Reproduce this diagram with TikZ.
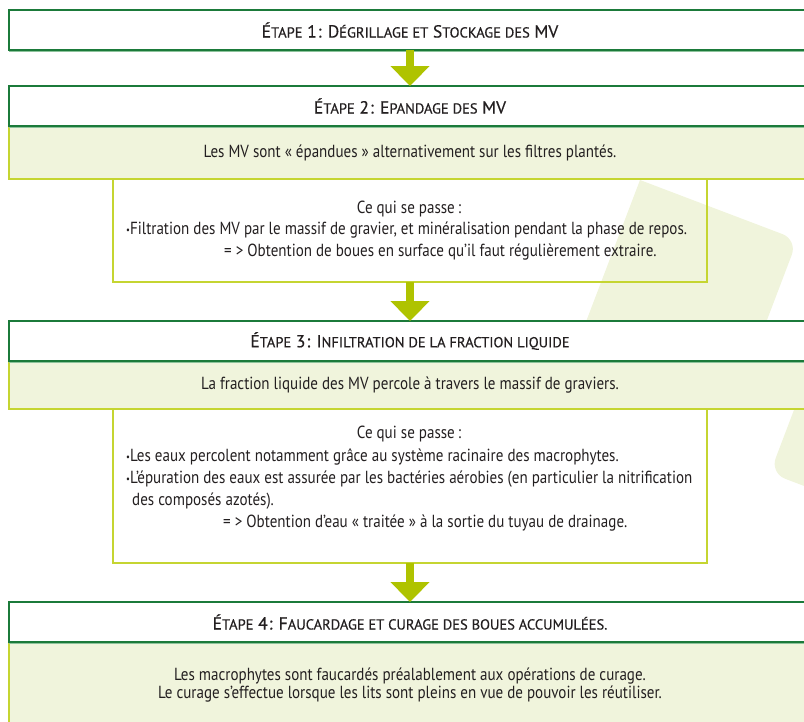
\documentclass[tikz,border=0pt]{standalone}
\usepackage{fontspec}
\setmainfont{PT Sans}[FakeStretch=0.86]
\newfontfamily\entete{PT Sans}[FakeBold=0.4]
\usetikzlibrary{arrows.meta, positioning, shadows}
\definecolor{pine}{HTML}{1B7A3A}
\definecolor{pineshade}{HTML}{8DC39B}
\definecolor{lime}{HTML}{C5D531}
\definecolor{pale}{HTML}{F0F4DC}
\definecolor{olivelime}{HTML}{AFC300}
\definecolor{ink}{HTML}{231F20}

% petites capitales faites a la main
\newcommand{\petcap}[1]{{\fontsize{14.5}{16}\selectfont\MakeUppercase{#1}}}
\newcommand{\puce}{{\fontsize{10}{10}\selectfont\raisebox{1pt}{•}}}

\tikzset{
  etape/.style={draw=pine, line width=1.4pt, fill=white, minimum width=802pt, minimum height=40pt,
    inner sep=0pt, outer sep=0pt, font=\entete\fontsize{17.5}{20}\selectfont,
    drop shadow={shadow xshift=0pt, shadow yshift=-2.2pt, fill=pineshade, opacity=1}},
  corps/.style={draw=lime, line width=1.4pt, fill=pale, minimum width=802pt, inner sep=0pt,
    outer sep=0pt, align=center, font=\fontsize{17.5}{18.5}\selectfont},
  detail/.style={draw=lime, line width=1.4pt, minimum width=594pt, inner sep=0pt, outer sep=0pt},
  texte/.style={inner sep=0pt, font=\fontsize{17.5}{22}\selectfont},
  fleche/.style={draw=olivelime, line width=8pt, -{Triangle[width=38pt, length=20pt]}},
}

\begin{document}
\begin{tikzpicture}[x=1pt, y=-1pt, every node/.style={text=ink}]
  \useasboundingbox (0,0) rectangle (804,721);
  \clip (0,0) rectangle (804,721);

  % feuilles claires du fond
  \fill[pale] (640,180) [rounded corners=16pt] -- (797.5,239.8) -- (737.6,397.3) -- (580,337.5) [sharp corners] -- cycle;
  \fill[pale, rounded corners=16pt] (830.4,314.2) -- (770,473) -- (928.8,533.4) -- (989.2,374.6) -- cycle;

  % etape 1
  \node[etape, anchor=north west] (etape1) at (9,10)
    {É\petcap{tape} 1\kern1pt: D\petcap{égrillage et} S\petcap{tockage des} MV};

  % etape 2
  \node[corps, minimum height=53pt, anchor=north west] (corps2) at (9,126)
    {Les MV sont « épandues » alternativement sur les filtres plantés.};
  \node[etape, above=0pt of corps2] (etape2) {É\petcap{tape} 2\kern1pt: E\petcap{pandage des} MV};
  \node[detail, minimum height=103pt, below=0pt of corps2] (detail1) {};
  \node[texte, anchor=base] (passe1) at (409,213) {Ce qui se passe\,:};
  \node[texte, align=left, anchor=north west] (liste1) at (126,222)
    {\puce Filtration des MV par le massif de gravier, et minéralisation pendant la phase de repos.\\
     \hspace*{98pt}= > Obtention de boues en surface qu’il faut régulièrement extraire.};

  % etape 3
  \node[corps, minimum height=48pt, below=79pt of detail1] (corps3)
    {La fraction liquide des MV percole à travers le massif de graviers.};
  \node[etape, above=0pt of corps3] (etape3)
    {É\petcap{tape} 3\kern1pt: I\petcap{nfiltration de la fraction liquide}};
  \node[detail, minimum height=154pt, below=0pt of corps3] (detail3) {};
  \node[texte, anchor=base] (passe3) at (409,438) {Ce qui se passe\,:};
  \node[texte, align=left, anchor=north west] (liste3) at (126,448)
    {\puce Les eaux percolent notamment grâce au système racinaire des macrophytes.\\
     \puce L’épuration des eaux est assurée par les bactéries aérobies (en particulier la nitrification\\
     \hspace*{6pt}des composés azotés).\\
     \hspace*{97pt}= > Obtention d’eau « traitée » à la sortie du tuyau de drainage.};

  % etape 4
  \node[corps, minimum height=86pt, below=79pt of detail3] (corps4)
    {Les macrophytes sont faucardés préalablement aux opérations de curage.\\
     Le curage s’effectue lorsque les lits sont pleins en vue de pouvoir les réutiliser.};
  \node[etape, above=0pt of corps4] (etape4)
    {É\petcap{tape} 4\kern1pt: F\petcap{aucardage et curage des boues accumulées.}};

  % fleches entre les etapes
  \draw[fleche] (etape1) -- (etape2);
  \draw[fleche] (detail1) -- (etape3);
  \draw[fleche] (detail3) -- (etape4);
\end{tikzpicture}
\end{document}
